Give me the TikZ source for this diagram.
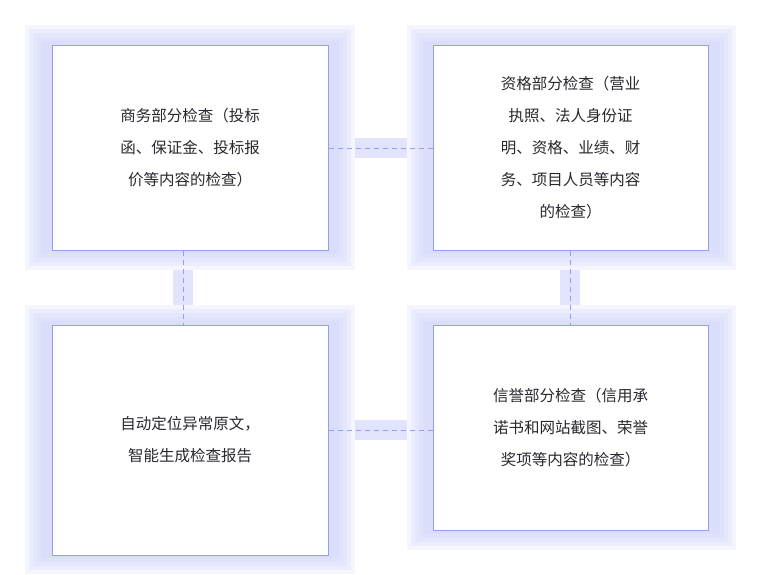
\documentclass[tikz,border=0pt]{standalone}
\usepackage{fontspec}
\setmainfont{Noto Sans CJK SC}
\definecolor{framebg}{RGB}{205,210,250}
\definecolor{edge}{RGB}{150,158,240}
\definecolor{barbg}{RGB}{225,228,252}
\definecolor{ink}{RGB}{40,40,48}
\tikzset{
  halo/.style={fill=framebg, fill opacity=0.22, draw=none},
  card/.style={draw=edge, line width=1pt, fill=white, text=ink, align=center,
    font=\fontsize{15.5}{32}\selectfont, inner sep=0pt},
  link/.style={draw=edge, dashed, dash pattern=on 5pt off 4pt, line width=0.9pt},
  bar/.style={fill=barbg, draw=none}
}
\newcommand{\glow}[4]{%
  \foreach \d in {0,4,...,16}
    \fill[halo] (#1+\d,#2+\d) rectangle (#3-\d,#4-\d);}
\begin{document}
\begin{tikzpicture}[x=1pt, y=-1pt]
\useasboundingbox[fill=white] (0,0) rectangle (765,574);
% halos
\glow{25}{25}{355}{270}
\glow{407}{25}{736}{270}
\glow{25}{305}{355}{574}
\glow{407}{305}{736}{550}
% bars behind links
\fill[bar] (355,138) rectangle (407,158);
\fill[bar] (355,420) rectangle (407,440);
\fill[bar] (173,270) rectangle (193,305);
\fill[bar] (560,270) rectangle (580,305);
% cards
\node[card, minimum width=276pt, minimum height=205pt] (biz) at (190,147.5)
  {商务部分检查（投标\\函、保证金、投标报\\价等内容的检查）};
\node[card, minimum width=275pt, minimum height=205pt] (qual) at (570.5,147.5)
  {资格部分检查（营业\\执照、法人身份证\\明、资格、业绩、财\\务、项目人员等内容\\的检查）};
\node[card, minimum width=276pt, minimum height=230pt] (auto) at (190,440)
  {自动定位异常原文，\\智能生成检查报告};
\node[card, minimum width=275pt, minimum height=205pt] (cred) at (570.5,427.5)
  {信誉部分检查（信用承\\诺书和网站截图、荣誉\\奖项等内容的检查）};
% links
\draw[link] (biz.east |- 0,148) -- (qual.west |- 0,148);
\draw[link] (auto.east |- 0,430) -- (cred.west |- 0,430);
\draw[link] (biz.south -| 183,0) -- (auto.north -| 183,0);
\draw[link] (qual.south -| 570,0) -- (cred.north -| 570,0);
\end{tikzpicture}
\end{document}
